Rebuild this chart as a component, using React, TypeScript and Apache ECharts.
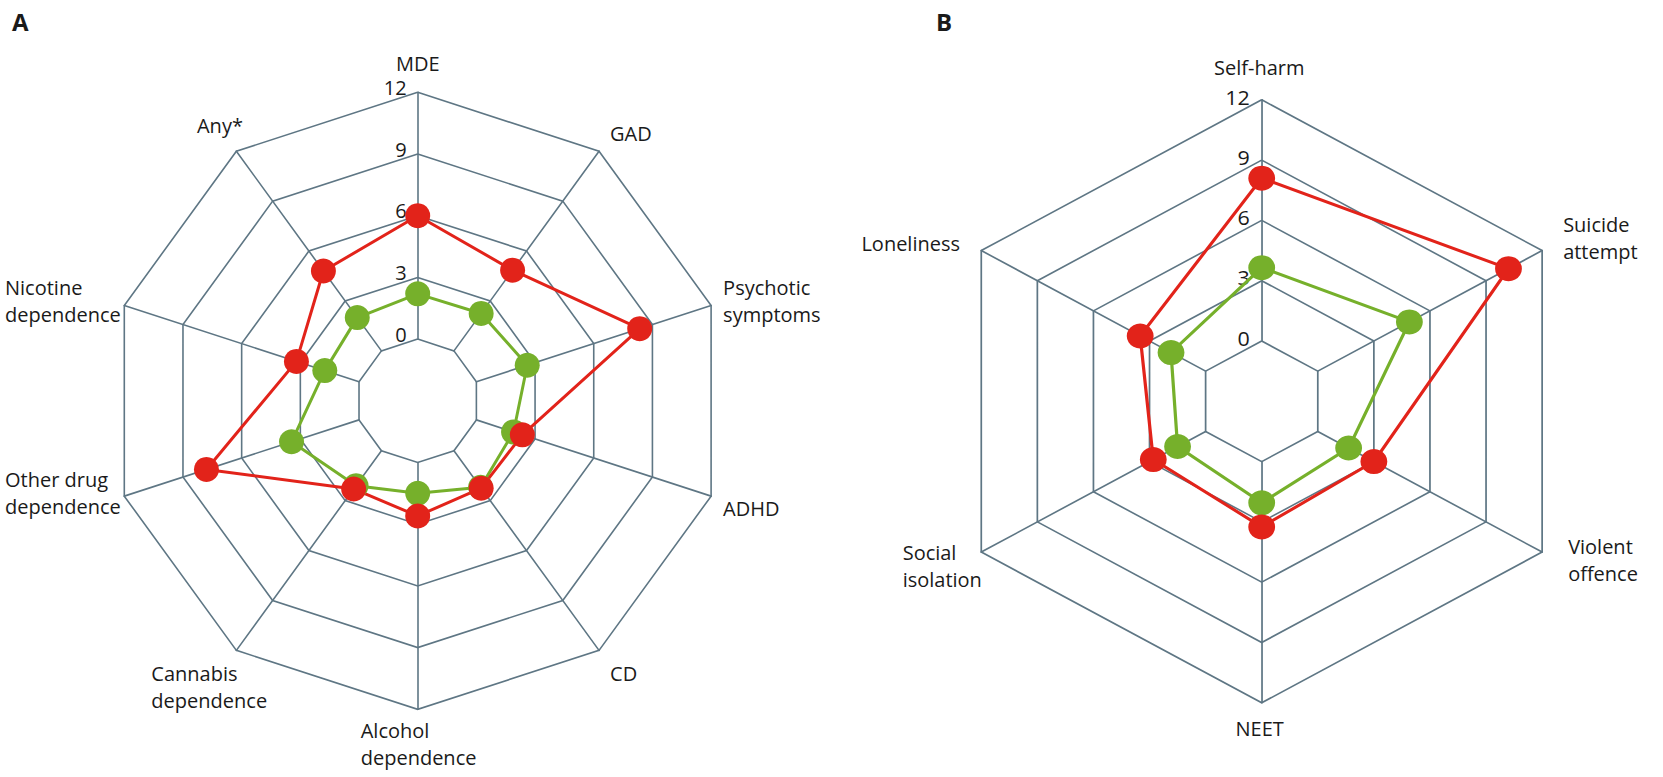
import React, { useEffect, useRef } from "react";
import * as echarts from "echarts";

// ---- data -------------------------------------------------------------
// Panel A, axes listed clockwise from the top.
const A_CATEGORIES = [
  "MDE",
  "GAD",
  "Psychotic\nsymptoms",
  "ADHD",
  "CD",
  "Alcohol\ndependence",
  "Cannabis\ndependence",
  "Other drug\ndependence",
  "Nicotine\ndependence",
  "Any*",
];
const A_RED = [6.0, 4.85, 8.35, 2.35, 2.25, 2.6, 2.3, 7.8, 3.2, 4.8];
const A_GREEN = [2.2, 2.25, 2.6, 1.9, 2.2, 1.5, 2.1, 3.45, 1.75, 2.0];

// Panel B, axes listed clockwise from the top.
const B_CATEGORIES = [
  "Self-harm",
  "Suicide\nattempt",
  "Violent\noffence",
  "NEET",
  "Social\nisolation",
  "Loneliness",
];
const B_RED = [8.1, 10.2, 3.0, 3.25, 2.8, 3.5];
const B_GREEN = [3.65, 4.9, 1.65, 2.05, 1.5, 1.85];

const AXIS_MIN = 0;
const AXIS_MAX = 12;
const AXIS_STEP = 3;

// ---- look -------------------------------------------------------------
const FONT = '"Open Sans", "Noto Sans", sans-serif';
const TEXT = "#1a1a1a";
const GRID = "#5e7684";
const RED = "#e2231a";
const GREEN = "#76b02b";

const W = 1663;
const H = 777;
const SPLIT_X = 832;

const A_CX = 417.7;
const A_CY = 400.8;
const A_R = 308.5;

const B_CX = 1261.7;
const B_CY = 401.3;
const B_R = 301.5;
const B_STRETCH = 1.074; // panel B is drawn a little wider than tall
const INNER = 0.2; // the zero ring sits at 20% of the radius

// Category name placement: anchor relative to the outer vertex of its axis.
type NamePos = { align: "left" | "right" | "center"; dx: number; dy: number };
const A_NAME_POS: NamePos[] = [
  { align: "center", dx: 0, dy: -29 },
  { align: "left", dx: 11, dy: -18 },
  { align: "left", dx: 12, dy: -4.5 },
  { align: "left", dx: 12, dy: 12.5 },
  { align: "left", dx: 11, dy: 23 },
  { align: "left", dx: -57, dy: 34.5 },
  { align: "left", dx: -85, dy: 37 },
  { align: "left", dx: -119.3, dy: -2.8 },
  { align: "left", dx: -119.3, dy: -4.5 },
  { align: "left", dx: -39.4, dy: -26 },
];
const B_NAME_POS: NamePos[] = [
  { align: "center", dx: -2.5, dy: -32 },
  { align: "left", dx: 21, dy: -12.5 },
  { align: "left", dx: 26, dy: 8 },
  { align: "center", dx: -2, dy: 25.5 },
  { align: "left", dx: -78.6, dy: 13.7 },
  { align: "right", dx: -21.3, dy: -7 },
];

// ECharts lays radar indicators out counter-clockwise; keep the first axis
// on top and reverse the rest so the categories read clockwise.
const ccw = <T,>(arr: T[]): T[] => [arr[0], ...arr.slice(1).reverse()];

const axisAngle = (i: number, n: number) => 90 - (360 / n) * i;

function nameText(
  text: string,
  x: number,
  y: number,
  align: string,
  scaleX = 1,
  bold = false,
  size = 20
) {
  const multiLine = text.indexOf("\n") >= 0;
  return {
    type: "text",
    x,
    y,
    scaleX,
    silent: true,
    style: {
      text,
      fill: TEXT,
      fontSize: size,
      fontWeight: bold ? "bold" : "normal",
      fontFamily: FONT,
      lineHeight: multiLine ? 27 : size,
      align,
      textAlign: align,
      verticalAlign: "middle",
      textVerticalAlign: "middle",
    },
  };
}

// tickRise: how far the tick numbers sit above their ring (half the line box).
function radarOption(
  names: string[],
  red: number[],
  green: number[],
  cx: number,
  cy: number,
  r: number,
  tickRise: number,
  graphics: any[]
) {
  const lineSeries = (name: string, values: number[], color: string) => ({
    type: "radar",
    name,
    symbol: "circle",
    symbolSize: 25,
    lineStyle: { color, width: 3 },
    itemStyle: { color },
    data: [{ name, value: ccw(values) }],
  });
  return {
    animation: false,
    radar: {
      center: [cx, cy],
      radius: [r * INNER, r],
      startAngle: 90,
      shape: "polygon",
      splitNumber: (AXIS_MAX - AXIS_MIN) / AXIS_STEP,
      indicator: ccw(names).map((name, i) => ({
        name,
        min: AXIS_MIN,
        max: AXIS_MAX,
        ...(i === 0 ? { axisLabel: { show: true } } : {}),
      })),
      axisName: { show: false },
      axisLine: { lineStyle: { color: GRID, width: 1.6 } },
      splitLine: { lineStyle: { color: GRID, width: 1.6 } },
      splitArea: { show: false },
      axisTick: { show: false },
      axisLabel: {
        show: false,
        color: TEXT,
        fontSize: 20,
        fontFamily: FONT,
        margin: 11,
        verticalAlign: "bottom",
        lineHeight: tickRise * 2,
      },
    },
    graphic: { elements: graphics },
    series: [
      lineSeries("Green profile", green, GREEN),
      lineSeries("Red profile", red, RED),
    ],
  };
}

function buildA() {
  const n = A_CATEGORIES.length;
  const graphics: any[] = [nameText("A", 12, 21.5, "left", 1, true, 24)];
  A_CATEGORIES.forEach((name, i) => {
    const a = (axisAngle(i, n) * Math.PI) / 180;
    const vx = A_CX + A_R * Math.cos(a);
    const vy = A_CY - A_R * Math.sin(a);
    const p = A_NAME_POS[i];
    graphics.push(nameText(name, vx + p.dx, vy + p.dy, p.align));
  });
  return radarOption(A_CATEGORIES, A_RED, A_GREEN, A_CX, A_CY, A_R, 5, graphics);
}

function buildB() {
  // Local coordinates of the panel-B canvas; the canvas is widened by
  // B_STRETCH about the radar centre, so texts are squeezed back by 1/B_STRETCH.
  const ox = B_CX - SPLIT_X;
  const toLocal = (pageX: number) => ox + (pageX - SPLIT_X - ox) / B_STRETCH;
  const inv = 1 / B_STRETCH;
  const n = B_CATEGORIES.length;
  const graphics: any[] = [nameText("B", toLocal(936), 21.5, "left", inv, true, 24)];
  B_CATEGORIES.forEach((name, i) => {
    const a = (axisAngle(i, n) * Math.PI) / 180;
    const vx = B_CX + B_STRETCH * B_R * Math.cos(a);
    const vy = B_CY - B_R * Math.sin(a);
    const p = B_NAME_POS[i];
    graphics.push(nameText(name, toLocal(vx + p.dx), vy + p.dy, p.align, inv));
  });
  return radarOption(B_CATEGORIES, B_RED, B_GREEN, ox, B_CY, B_R, 3, graphics);
}

export default function App() {
  const refA = useRef<HTMLDivElement>(null);
  const refB = useRef<HTMLDivElement>(null);

  useEffect(() => {
    document.body.style.margin = "0";
    const a = echarts.init(refA.current!, undefined, { renderer: "svg" });
    const b = echarts.init(refB.current!, undefined, { renderer: "svg" });
    a.setOption(buildA() as any);
    b.setOption(buildB() as any);
    return () => {
      a.dispose();
      b.dispose();
    };
  }, []);

  return (
    <div
      style={{
        position: "absolute",
        left: 0,
        top: 0,
        width: W,
        height: H,
        overflow: "hidden",
        background: "#ffffff",
      }}
    >
      <div
        ref={refA}
        style={{ position: "absolute", left: 0, top: 0, width: SPLIT_X, height: H }}
      />
      <div
        ref={refB}
        style={{
          position: "absolute",
          left: SPLIT_X,
          top: 0,
          width: W - SPLIT_X,
          height: H,
          transform: `scaleX(${B_STRETCH})`,
          transformOrigin: `${B_CX - SPLIT_X}px 0px`,
        }}
      />
    </div>
  );
}
